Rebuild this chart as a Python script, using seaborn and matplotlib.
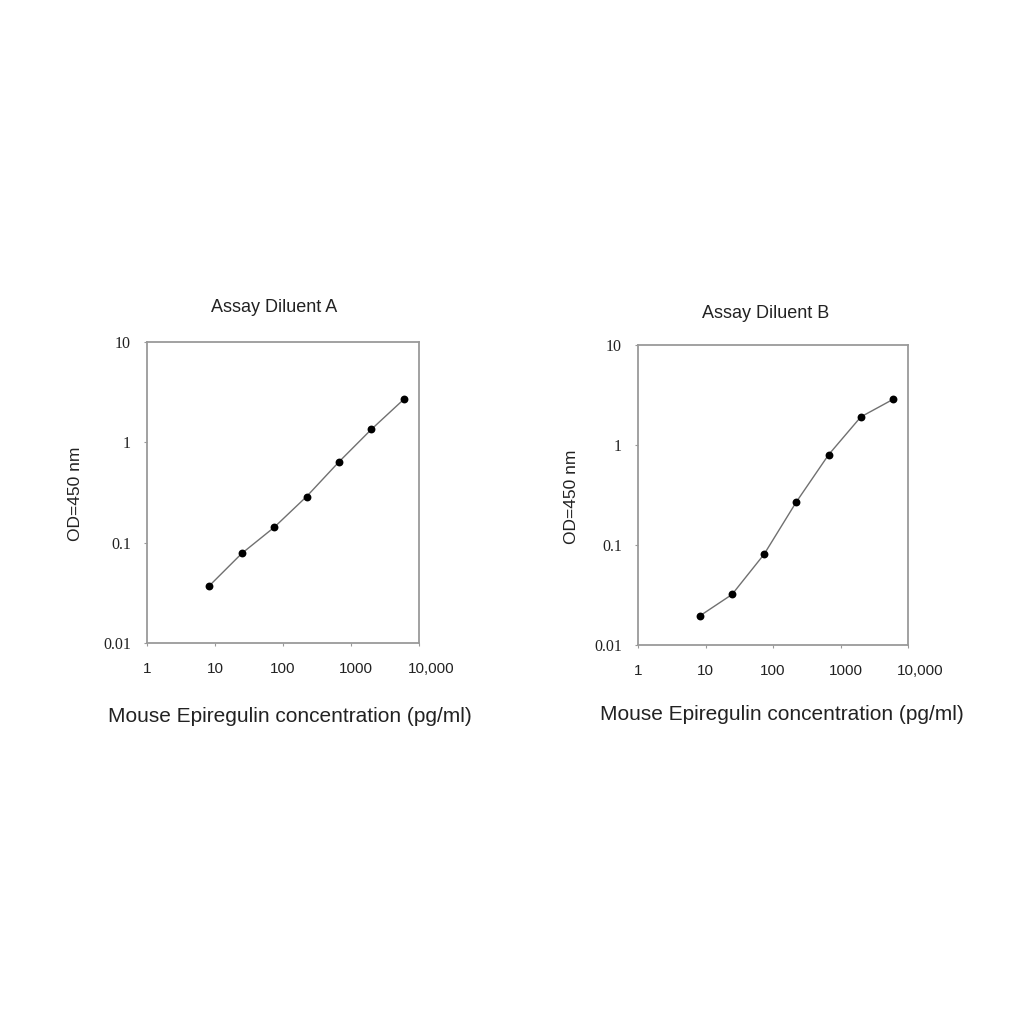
import matplotlib
matplotlib.use("Agg")
import matplotlib.pyplot as plt
import matplotlib.transforms as mtransforms
import seaborn as sns
import pandas as pd
import numpy as np

# Data
conc = [8.2, 24.7, 74, 222, 667, 2000, 6000]
od_a = [0.037, 0.078, 0.142, 0.288, 0.64, 1.35, 2.69]
od_b = [0.0195, 0.032, 0.081, 0.27, 0.80, 1.91, 2.86]
titles = ["Assay Diluent A", "Assay Diluent B"]
x_ticks = [1, 10, 100, 1000, 10000]
x_ticklabels = ["1", "10", "100", "1000", "10,000"]
y_ticks = [0.01, 0.1, 1, 10]
y_ticklabels = ["0.01", "0.1", "1", "10"]
xlabel = "Mouse Epiregulin concentration (pg/ml)"
ylabel = "OD=450 nm"

sns.set_theme(style="white")
plt.rcParams['font.family'] = ['Liberation Sans', 'DejaVu Sans']

fig = plt.figure(figsize=(10.24, 10.24), dpi=100)
positions = [
    [147/1024, 1-643/1024, 272/1024, 301/1024],
    [638/1024, 1-645/1024, 270/1024, 300/1024],
]
series = [od_a, od_b]
title_xy = [(274, 307), (766, 313)]
xlab_xy = [(290, 716), (782, 714)]
ylab_xy = [(75, 494), (571, 497)]
xlabel_shift_px = [0, 0, 0, 5, 12]

for i in range(2):
    ax = fig.add_axes(positions[i])
    df = pd.DataFrame({"conc": conc, "od": series[i]})
    sns.lineplot(data=df, x="conc", y="od", ax=ax, color="#707070", linewidth=1.0)
    sns.scatterplot(data=df, x="conc", y="od", ax=ax, color="black", s=32,
                    edgecolor="black", linewidth=0, zorder=3)
    ax.set_xscale("log")
    ax.set_yscale("log")
    ax.set_xlim(1, 10000)
    ax.set_ylim(0.01, 10)
    ax.set_xticks(x_ticks)
    ax.set_xticklabels(x_ticklabels, fontsize=11, color="#222222")
    ax.set_yticks(y_ticks)
    ax.set_yticklabels(y_ticklabels, fontsize=11.5, color="#222222",
                       family=['Liberation Serif', 'DejaVu Serif'])
    ax.minorticks_off()
    ax.tick_params(axis='both', which='major', direction='out', length=2.5,
                   width=0.8, color="#999999", bottom=True, left=True)
    ax.tick_params(axis='x', pad=11)
    ax.tick_params(axis='y', pad=9)
    for lab, sh in zip(ax.get_xticklabels(), xlabel_shift_px):
        if sh:
            off = mtransforms.ScaledTranslation(sh/100, 0, fig.dpi_scale_trans)
            lab.set_transform(lab.get_transform() + off)
    for s in ax.spines.values():
        s.set_color("#9a9a9a")
        s.set_linewidth(1.3)
    ax.set_xlabel("")
    ax.set_ylabel("")
    fig.text(title_xy[i][0]/1024, 1 - title_xy[i][1]/1024, titles[i], ha="center", va="center",
             fontsize=13, color="#222222")
    fig.text(xlab_xy[i][0]/1024, 1 - xlab_xy[i][1]/1024, xlabel, ha="center", va="center",
             fontsize=15, color="#222222")
    fig.text(ylab_xy[i][0]/1024, 1 - ylab_xy[i][1]/1024, ylabel, ha="center", va="center",
             rotation=90, fontsize=12.5, color="#222222")

fig.savefig("out.png", dpi=100, facecolor="white")
